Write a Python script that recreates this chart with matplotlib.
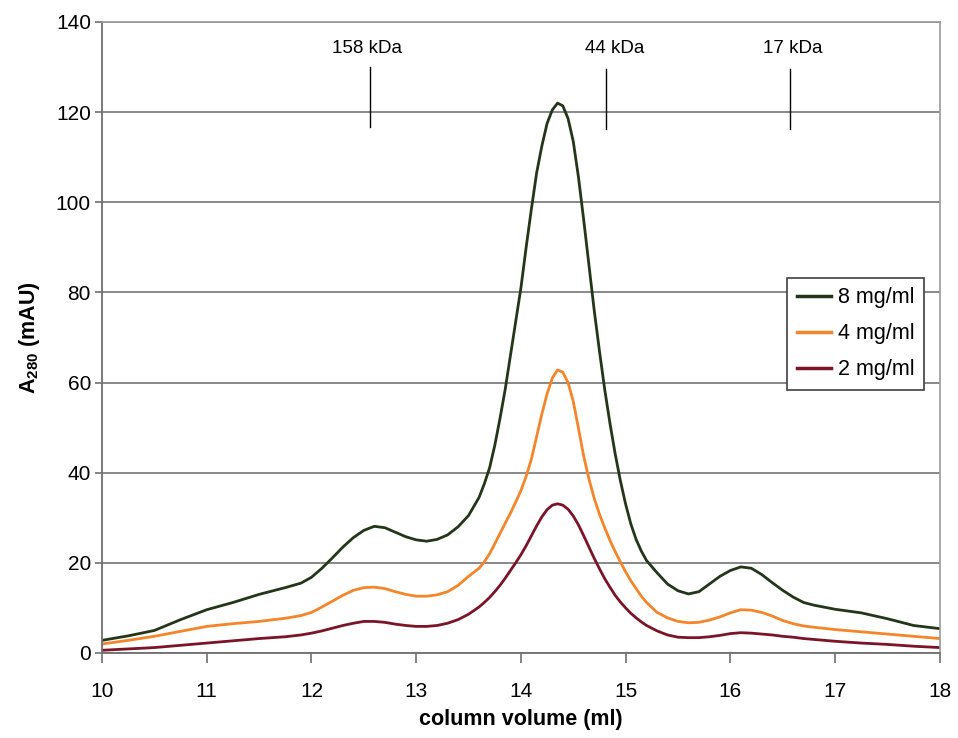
import matplotlib.pyplot as plt

plt.rcParams['font.family'] = ['Liberation Sans', 'DejaVu Sans']
plt.rcParams['mathtext.fontset'] = 'custom'
plt.rcParams['mathtext.rm'] = 'Liberation Sans'
plt.rcParams['mathtext.bf'] = 'Liberation Sans:bold'

# elution volume (ml)
volume = [10.0, 10.25, 10.5, 10.75, 11.0, 11.25, 11.5, 11.75, 11.9, 12.0,
          12.1, 12.2, 12.3, 12.4, 12.5, 12.6, 12.7, 12.8, 12.9, 13.0,
          13.1, 13.2, 13.3, 13.4, 13.5,
          13.6, 13.65, 13.7, 13.75, 13.8, 13.85, 13.9, 13.95, 14.0, 14.05,
          14.1, 14.15, 14.2, 14.25, 14.3, 14.35, 14.4, 14.45, 14.5, 14.55,
          14.6, 14.65, 14.7, 14.75, 14.8, 14.85, 14.9, 14.95, 15.0, 15.05,
          15.1, 15.15, 15.2,
          15.3, 15.4, 15.5, 15.6, 15.7, 15.8, 15.9,
          16.0, 16.1, 16.2, 16.3, 16.4, 16.5, 16.6, 16.7, 16.8, 17.0,
          17.25, 17.5, 17.75, 18.0]

a280_8mg = [2.8, 3.8, 5.0, 7.4, 9.6, 11.2, 13.0, 14.5, 15.5, 16.8,
            18.8, 21.1, 23.5, 25.6, 27.2, 28.1, 27.8, 26.8, 25.8, 25.1,
            24.8, 25.2, 26.2, 28.0, 30.5,
            34.5, 37.5, 41.0, 46.0, 52.0, 58.5, 66.0, 73.5, 81.0, 90.0,
            98.5, 106.5, 112.5, 117.5, 120.5, 122.0, 121.4, 118.6, 113.5, 105.5,
            96.0, 86.0, 76.0, 67.0, 58.5, 51.0, 44.2, 38.2, 33.0, 28.6,
            25.2, 22.6, 20.5,
            17.8, 15.3, 13.8, 13.1, 13.6, 15.3, 17.0,
            18.3, 19.1, 18.8, 17.4, 15.6, 13.9, 12.4, 11.2, 10.6, 9.7,
            8.9, 7.6, 6.1, 5.4]

a280_4mg = [2.0, 2.8, 3.7, 4.8, 5.9, 6.5, 7.0, 7.7, 8.3, 9.0,
            10.2, 11.5, 12.8, 13.9, 14.5, 14.6, 14.3, 13.6, 13.0, 12.6,
            12.6, 12.9, 13.6, 15.0, 17.0,
            18.8, 20.2, 22.0, 24.2, 26.5, 28.8, 31.0, 33.5, 36.0, 39.2,
            43.0, 48.0, 53.0, 57.5, 61.0, 62.8, 62.3, 60.0, 55.8, 49.8,
            43.6, 38.6, 34.3, 30.8, 27.8, 25.0, 22.5, 20.2, 18.0, 16.0,
            14.3, 12.6, 11.2,
            9.0, 7.8, 7.0, 6.7, 6.8, 7.3, 8.0,
            8.9, 9.6, 9.5, 9.0, 8.2, 7.2, 6.5, 6.0, 5.7, 5.2,
            4.7, 4.2, 3.7, 3.2]

a280_2mg = [0.6, 0.9, 1.2, 1.7, 2.2, 2.7, 3.2, 3.6, 4.0, 4.4,
            4.9, 5.5, 6.1, 6.6, 7.0, 7.0, 6.8, 6.4, 6.1, 5.9,
            5.9, 6.1, 6.6, 7.4, 8.6,
            10.2, 11.2, 12.3, 13.6, 15.0, 16.6, 18.3, 20.0, 21.8, 23.8,
            26.0, 28.2, 30.2, 31.8, 32.8, 33.1, 32.8, 31.9, 30.4, 28.4,
            26.0, 23.5, 21.0, 18.7, 16.5, 14.6, 12.8, 11.3, 10.0, 8.8,
            7.8, 6.9, 6.1,
            4.9, 4.0, 3.5, 3.4, 3.4, 3.6, 3.9,
            4.3, 4.5, 4.4, 4.2, 4.0, 3.7, 3.5, 3.2, 3.0, 2.6,
            2.2, 1.9, 1.5, 1.2]

# molecular weight standards
marker_labels = ['158 kDa', '44 kDa', '17 kDa']
marker_pos = [12.56, 14.81, 16.57]
marker_text_pos = [12.53, 14.9, 16.6]

fig = plt.figure(figsize=(9.58, 7.38), dpi=100)
ax = fig.add_axes([0.1065, 0.1152, 0.8745, 0.855])

ax.plot(volume, a280_8mg, color='#23361a', lw=2.0, label='8 mg/ml')
ax.plot(volume, a280_4mg, color='#f5852a', lw=2.0, label='4 mg/ml')
ax.plot(volume, a280_2mg, color='#7a1426', lw=2.0, label='2 mg/ml')

for lab, xl, xt in zip(marker_labels, marker_pos, marker_text_pos):
    top = 130.0 if lab.startswith('158') else 129.5
    ax.plot([xl, xl], [top - 13.2, top], color='black', lw=1.0)
    ax.text(xt, 134.2, lab, ha='center', va='center', fontsize=13.5)

ax.set_xlim(10, 18)
ax.set_ylim(0, 140)
ax.set_xticks(range(10, 19))
ax.set_yticks(range(0, 141, 20))
ax.yaxis.grid(True, color='#7f7f7f', lw=1.3)
ax.set_axisbelow(True)
ax.tick_params(axis='both', direction='out', length=7, width=1.2,
               color='#707070', labelsize=15)
ax.tick_params(axis='x', pad=14)
ax.tick_params(axis='y', length=5, pad=3)

for side in ['left', 'bottom']:
    ax.spines[side].set_color('#707070')
    ax.spines[side].set_linewidth(1.3)
for side in ['top', 'right']:
    ax.spines[side].set_color('#9a9a9a')
    ax.spines[side].set_linewidth(1.2)

ax.set_xlabel('column volume (ml)', fontsize=15.5, fontweight='bold', labelpad=6)
ax.set_ylabel(r'A$_\mathbf{280}$ (mAU)', fontsize=15.5, fontweight='bold',
              labelpad=10)

leg = ax.legend(loc='upper left', bbox_to_anchor=(0.818, 0.595),
                fontsize=15.5, frameon=True, fancybox=False, framealpha=1,
                edgecolor='#404040', handlelength=1.6, handletextpad=0.3,
                labelspacing=0.7, borderpad=0.45, borderaxespad=0)
leg.get_frame().set_linewidth(1.2)
for line in leg.get_lines():
    line.set_linewidth(2.5)

fig.savefig('out.png', dpi=100)
